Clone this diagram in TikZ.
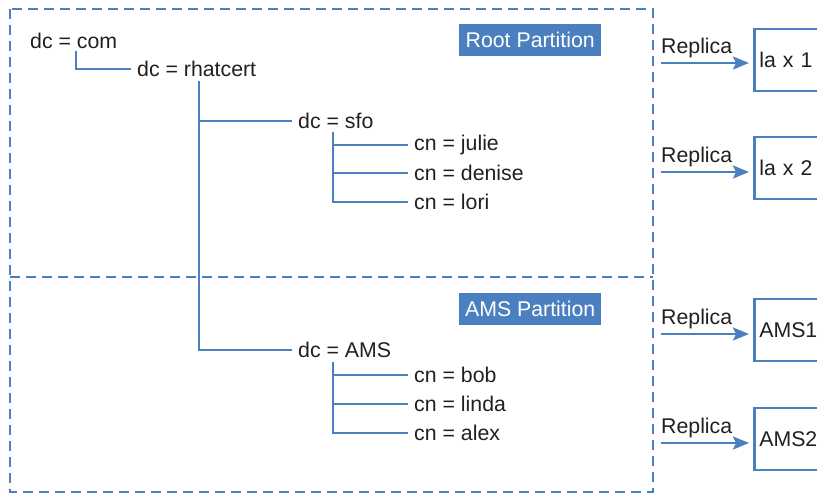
\documentclass[tikz,border=0pt]{standalone}
\usepackage{fontspec}
\setmainfont{Liberation Sans}
\usetikzlibrary{arrows.meta,calc}
\definecolor{ldapblue}{HTML}{4A80C0}
\definecolor{ink}{HTML}{231F20}
\begin{document}
\begin{tikzpicture}[x=1pt,y=-1pt,
  txt/.style={font=\fontsize{21.3}{25}\selectfont,text=ink},
  entry/.style={txt,anchor=west,inner xsep=6pt,inner ysep=2pt},
  link/.style={draw=ldapblue,line width=2.2pt},
  part/.style={draw=ldapblue,line width=2.2pt,dash pattern=on 10pt off 6pt},
  tag/.style={fill=ldapblue,text=white,font=\fontsize{21.3}{25}\selectfont,
    minimum width=142pt,minimum height=32pt,inner sep=0pt,anchor=north west},
  replica/.style={txt,draw=ldapblue,line width=2.6pt,fill=white,anchor=west,
    text width=72pt,align=left,inner xsep=5pt,minimum height=62pt},
  feed/.style={link,-{Stealth[length=16pt,width=13pt,inset=3pt]},shorten >=4pt}]
\useasboundingbox (0,0) rectangle (817,494);
\clip (0,0) rectangle (817,494);

% partitions: outer frame and the divider between them
\draw[part] (10,9) rectangle (653,492);
\draw[part] (10,277) -- (653,277);
\node[tag] (roottag) at (459,24) {Root Partition};
\node[tag] (amstag) at (459,293) {AMS Partition};

% directory tree
\node[entry] (com) at (24,41) {dc = com};
\node[entry] (rhat) at (131,69) {dc = rhatcert};
\node[entry] (sfo) at (292,121) {dc = sfo};
\node[entry] (julie) at (408,145) {cn = julie};
\node[entry] (denise) at (408,173) {cn = denise};
\node[entry] (lori) at (408,202) {cn = lori};
\node[entry] (ams) at (292,350) {dc = AMS};
\node[entry] (bob) at (408,375) {cn = bob};
\node[entry] (linda) at (408,404) {cn = linda};
\node[entry] (alex) at (408,433) {cn = alex};

\coordinate (comtrunk) at (76,51);
\coordinate (rhattrunk) at (199,81);
\coordinate (sfotrunk) at (333,132);
\coordinate (amstrunk) at (333,362);

\draw[link] (comtrunk) |- (rhat.west);
\draw[link] (rhattrunk) |- (ams.west);
\draw[link] (rhattrunk |- sfo.west) -- (sfo.west);
\draw[link] (sfotrunk) |- (lori.west);
\draw[link] (sfotrunk |- julie.west) -- (julie.west);
\draw[link] (sfotrunk |- denise.west) -- (denise.west);
\draw[link] (amstrunk) |- (alex.west);
\draw[link] (amstrunk |- bob.west) -- (bob.west);
\draw[link] (amstrunk |- linda.west) -- (linda.west);

% replicas
\node[replica] (lax1) at (753,60) {la x 1};
\node[replica] (lax2) at (753,168) {la x 2};
\node[replica] (ams1) at (753,330) {AMS1};
\node[replica] (ams2) at (753,439) {AMS2};

\coordinate (f1) at (661,63);
\coordinate (f2) at (661,172);
\coordinate (f3) at (661,334);
\coordinate (f4) at (661,443);
\draw[feed] (f1) -- (f1 -| lax1.west);
\draw[feed] (f2) -- (f2 -| lax2.west);
\draw[feed] (f3) -- (f3 -| ams1.west);
\draw[feed] (f4) -- (f4 -| ams2.west);

\node[txt,anchor=south west,inner sep=0pt] (r1) at ([yshift=5pt]f1) {Replica};
\node[txt,anchor=south west,inner sep=0pt] (r2) at ([yshift=5pt]f2) {Replica};
\node[txt,anchor=south west,inner sep=0pt] (r3) at ([yshift=5pt]f3) {Replica};
\node[txt,anchor=south west,inner sep=0pt] (r4) at ([yshift=5pt]f4) {Replica};
\end{tikzpicture}
\end{document}
